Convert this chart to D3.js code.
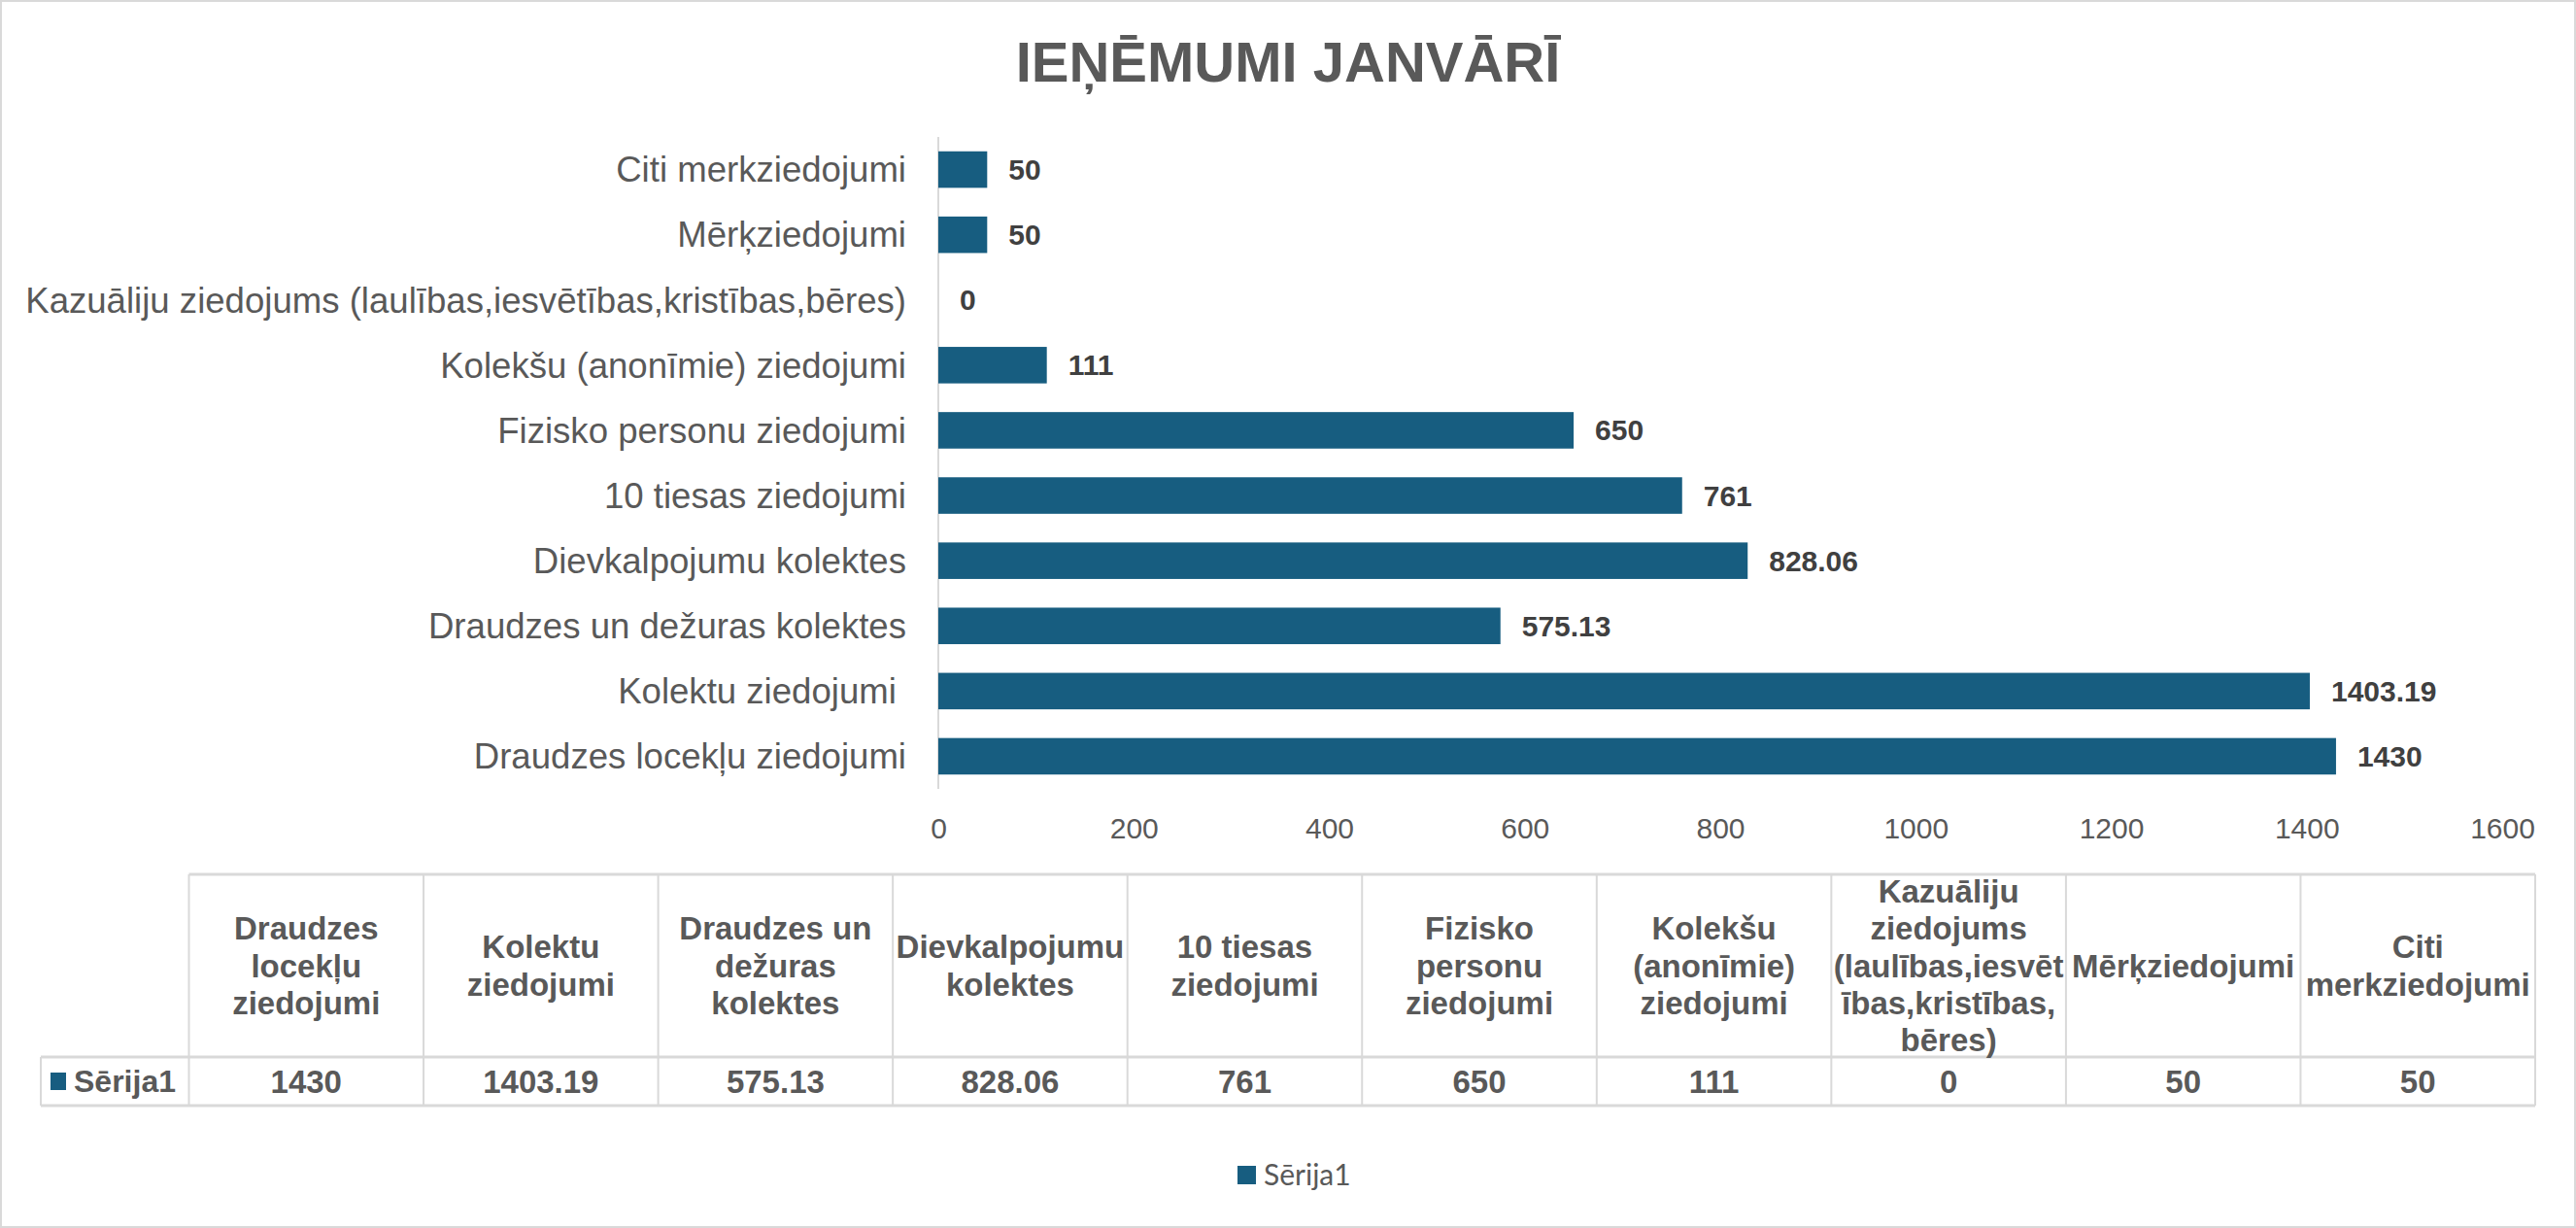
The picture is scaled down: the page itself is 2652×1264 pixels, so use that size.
<!DOCTYPE html>
<html>
<head>
<meta charset="utf-8">
<script src="https://cdn.jsdelivr.net/npm/d3@7"></script>
<style>
  body { margin: 0; background: #fff; }
  text { white-space: pre; }
</style>
</head>
<body>
<svg id="grafiks" width="2652" height="1264"></svg>
<script>
// dati
const kategorijas = [
  "Draudzes locekļu ziedojumi",
  "Kolektu ziedojumi ",
  "Draudzes un dežuras kolektes",
  "Dievkalpojumu kolektes",
  "10 tiesas ziedojumi",
  "Fizisko personu ziedojumi",
  "Kolekšu (anonīmie) ziedojumi",
  "Kazuāliju ziedojums (laulības,iesvētības,kristības,bēres)",
  "Mērķziedojumi",
  "Citi merkziedojumi"
];
const vertibas = [1430, 1403.19, 575.13, 828.06, 761, 650, 111, 0, 50, 50];
const tabulasGalvas = [
  ["Draudzes", "locekļu", "ziedojumi"],
  ["Kolektu", "ziedojumi"],
  ["Draudzes un", "dežuras", "kolektes"],
  ["Dievkalpojumu", "kolektes"],
  ["10 tiesas", "ziedojumi"],
  ["Fizisko", "personu", "ziedojumi"],
  ["Kolekšu", "(anonīmie)", "ziedojumi"],
  ["Kazuāliju", "ziedojums", "(laulības,iesvēt", "ības,kristības,", "bēres)"],
  ["Mērķziedojumi"],
  ["Citi", "merkziedojumi"]
];
const xTicks = [0, 200, 400, 600, 800, 1000, 1200, 1400, 1600];
const serija = "Sērija1";
const virsraksts = "IEŅĒMUMI JANVĀRĪ";

const svg = d3.select("#grafiks");
const W = +svg.attr("width");
const H = +svg.attr("height");
const krasa = "#175d80";
const arial = "'Liberation Sans', Arial, sans-serif";

svg.append("rect")
  .attr("x", 1).attr("y", 1).attr("width", W - 2).attr("height", H - 2)
  .attr("fill", "#fff").attr("stroke", "#d9d9d9").attr("stroke-width", 2);

svg.append("text")
  .attr("x", W / 2).attr("y", 84)
  .attr("text-anchor", "middle")
  .attr("font-family", arial).attr("font-weight", "bold").attr("font-size", 58)
  .attr("fill", "#595959")
  .text(virsraksts);

// skalas
const x = d3.scaleLinear().domain([0, 1600]).range([966, 2576]);
const y = d3.scaleBand()
  .domain(kategorijas)
  .range([812, 141])
  .paddingInner(0.44)
  .paddingOuter(0.22);

// ass līnija
svg.append("line")
  .attr("x1", x(0)).attr("x2", x(0))
  .attr("y1", 141).attr("y2", 812)
  .attr("stroke", "#d9d9d9").attr("stroke-width", 2);

// kategoriju nosaukumi
svg.selectAll("text.kat")
  .data(kategorijas)
  .join("text")
  .attr("class", "kat")
  .attr("x", x(0) - 33)
  .attr("y", d => y(d) + y.bandwidth() / 2)
  .attr("dy", "0.35em")
  .attr("text-anchor", "end")
  .attr("font-family", arial).attr("font-size", 36.6)
  .attr("fill", "#595959")
  .text(d => d);

// x ass
const xAxis = svg.append("g")
  .attr("transform", "translate(0,830)")
  .call(d3.axisBottom(x).tickValues(xTicks).tickSize(0).tickPadding(0).tickFormat(d3.format("d")));
xAxis.select(".domain").remove();
xAxis.selectAll("text")
  .attr("font-family", arial).attr("font-size", 30)
  .attr("fill", "#595959")
  .attr("dy", "1.1em");

// stabiņi
svg.selectAll("rect.bar")
  .data(vertibas)
  .join("rect")
  .attr("class", "bar")
  .attr("x", x(0))
  .attr("y", (_, i) => y(kategorijas[i]))
  .attr("width", d => x(d) - x(0))
  .attr("height", y.bandwidth())
  .attr("fill", krasa);

svg.selectAll("text.val")
  .data(vertibas)
  .join("text")
  .attr("class", "val")
  .attr("x", d => x(d) + 22)
  .attr("y", (_, i) => y(kategorijas[i]) + y.bandwidth() / 2)
  .attr("dy", "0.35em")
  .attr("font-family", arial).attr("font-weight", "bold").attr("font-size", 30)
  .attr("fill", "#404040")
  .text(d => d);

// datu tabula
const tTop = 900, tMid = 1088, tBot = 1138, tLeft = 42;
const col = d3.scaleBand().domain(d3.range(kategorijas.length)).range([194.5, 2610]);
const tab = svg.append("g");
const grid = "#d9d9d9";

tab.append("line").attr("x1", col.range()[0]).attr("x2", col.range()[1])
  .attr("y1", tTop).attr("y2", tTop).attr("stroke", grid).attr("stroke-width", 3);
tab.append("line").attr("x1", tLeft).attr("x2", col.range()[1])
  .attr("y1", tMid).attr("y2", tMid).attr("stroke", grid).attr("stroke-width", 3);
tab.append("line").attr("x1", tLeft).attr("x2", col.range()[1])
  .attr("y1", tBot).attr("y2", tBot).attr("stroke", grid).attr("stroke-width", 3);
tab.append("line").attr("x1", tLeft).attr("x2", tLeft)
  .attr("y1", tMid).attr("y2", tBot).attr("stroke", grid).attr("stroke-width", 2);
tab.selectAll("line.v")
  .data(d3.range(kategorijas.length + 1))
  .join("line")
  .attr("class", "v")
  .attr("x1", i => col.range()[0] + i * col.step())
  .attr("x2", i => col.range()[0] + i * col.step())
  .attr("y1", tTop).attr("y2", tBot)
  .attr("stroke", grid).attr("stroke-width", 2);

const galvas = tab.selectAll("text.galva")
  .data(tabulasGalvas)
  .join("text")
  .attr("class", "galva")
  .attr("text-anchor", "middle")
  .attr("font-family", arial).attr("font-weight", "bold").attr("font-size", 33)
  .attr("fill", "#595959");
galvas.each(function (rindas, i) {
  const cx = col(i) + col.bandwidth() / 2;
  const lh = 38.3;
  const y0 = (tTop + tMid) / 2 - (rindas.length - 1) * lh / 2;
  d3.select(this).selectAll("tspan")
    .data(rindas)
    .join("tspan")
    .attr("x", cx)
    .attr("y", (_, j) => y0 + j * lh)
    .attr("dy", "0.35em")
    .text(d => d);
});

tab.selectAll("text.tv")
  .data(vertibas)
  .join("text")
  .attr("class", "tv")
  .attr("x", (_, i) => col(i) + col.bandwidth() / 2)
  .attr("y", (tMid + tBot) / 2)
  .attr("dy", "0.35em")
  .attr("text-anchor", "middle")
  .attr("font-family", arial).attr("font-weight", "bold").attr("font-size", 33)
  .attr("fill", "#595959")
  .text(d => d);

tab.append("rect")
  .attr("x", 52).attr("y", 1104).attr("width", 16).attr("height", 18)
  .attr("fill", krasa);
tab.append("text")
  .attr("x", 76).attr("y", (tMid + tBot) / 2).attr("dy", "0.35em")
  .attr("font-family", arial).attr("font-weight", "bold").attr("font-size", 32)
  .attr("fill", "#595959")
  .text(serija);

// leģenda
const leg = svg.append("g").attr("transform", "translate(1274,1200)");
leg.append("rect").attr("width", 19).attr("height", 19).attr("fill", krasa);
leg.append("text")
  .attr("x", 27).attr("y", 9.5).attr("dy", "0.35em")
  .attr("font-family", "Lato, 'Open Sans', sans-serif").attr("font-size", 30)
  .attr("fill", "#595959")
  .text(serija);
</script>
</body>
</html>
